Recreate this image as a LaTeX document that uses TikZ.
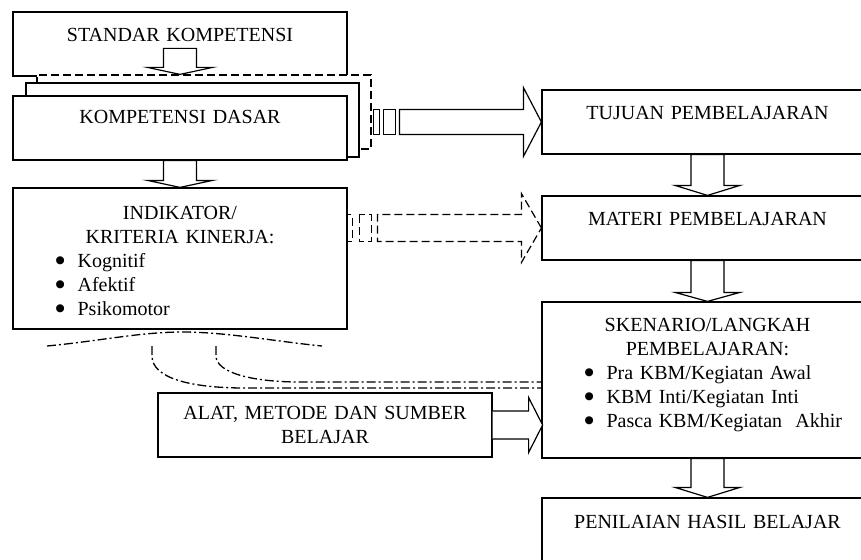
\documentclass[tikz,border=0pt]{standalone}
\usepackage{fontspec}
\setmainfont{Liberation Serif}
\newfontfamily\symfont{DejaVu Sans}
\usetikzlibrary{calc}

\newcommand{\bodyfont}{\fontsize{20}{24}\selectfont}
\newcommand{\bul}{\makebox[24pt][l]{\hspace{2pt}\raisebox{3.5pt}{\symfont\fontsize{10.5}{12}\selectfont ●}}}
% block arrow pointing down: [head length]{shaft top}{tip}
\newcommand{\blockdown}[3][8]{%
  \draw[blockarrow] let \p1=#2, \p2=#3 in
    (\x2-16.5pt,\y1) -- (\x2-16.5pt,\y2+#1pt) -- (\x2-32.5pt,\y2+#1pt) -- (\p2)
    -- (\x2+32.5pt,\y2+#1pt) -- (\x2+16.5pt,\y2+#1pt) -- (\x2+16.5pt,\y1) -- cycle;}

\begin{document}
\begin{tikzpicture}[x=1pt,y=-1pt,
  box/.style={draw,fill=white,line width=1.2pt,inner sep=0},
  boxtext/.style={anchor=base,inner sep=0,text width=330pt,align=center,font=\bodyfont},
  listtext/.style={anchor=base west,inner sep=0,text width=280pt,align=left,font=\bodyfont},
  blockarrow/.style={draw,fill=white,line width=1.2pt,line join=miter},
  dashline/.style={line width=1.2pt,dash pattern=on 8pt off 4pt},
  dashdotline/.style={line width=1.3pt,dash pattern=on 9pt off 3pt on 2pt off 3pt}]
	\useasboundingbox (0,0) rectangle (861,559);
	\clip (0,0) rectangle (861,559);
	% left column
	\node[box,minimum width=334,minimum height=64] (sk) at (180,44) {};
	\node[box,dashline,minimum width=334,minimum height=74] (kdback) at (204,112) {};
	\node[box,minimum width=333,minimum height=74] (kdmid) at (192.5,120) {};
	\node[box,minimum width=334,minimum height=64] (kd) at (180,128) {};
	\node[box,minimum width=334,minimum height=141] (ind) at (180,258.5) {};
	\node[box,minimum width=334,minimum height=64] (al) at (325,425) {};
	% right column, cut by the right edge
	\node[box,minimum width=331,minimum height=64] (tj) at (707.5,122) {};
	\node[box,minimum width=331,minimum height=64] (mt) at (707.5,228) {};
	\node[box,minimum width=331,minimum height=156] (sc) at (707.5,380) {};
	\node[box,minimum width=331,minimum height=64] (pn) at (707.5,530) {};
	% texts
	\node[boxtext] (skt) at ([yshift=-30.6pt]sk.north) {STANDAR KOMPETENSI};
	\node[boxtext] (kdt) at ([yshift=-28.6pt]kd.north) {KOMPETENSI DASAR};
	\node[boxtext] (indt) at ([yshift=-31.6pt]ind.north) {INDIKATOR/\\KRITERIA KINERJA:};
	\node[listtext] (indl) at ([xshift=41pt,yshift=-79.6pt]ind.north west)
		{\bul Kognitif\\\bul Afektif\\\bul Psikomotor};
	\node[boxtext] (alt) at ([yshift=-26.6pt]al.north) {ALAT, METODE DAN SUMBER\\BELAJAR};
	\node[boxtext] (tjt) at ([yshift=-29.6pt]tj.north) {TUJUAN PEMBELAJARAN};
	\node[boxtext] (mtt) at ([yshift=-29.6pt]mt.north) {MATERI PEMBELAJARAN};
	\node[boxtext] (sct) at ([yshift=-29.6pt]sc.north) {SKENARIO/LANGKAH\\PEMBELAJARAN:};
	\node[listtext] (scl) at ([xshift=41pt,yshift=-77.6pt]sc.north west)
		{\bul Pra KBM/Kegiatan Awal\\\bul KBM Inti/Kegiatan Inti\\\bul Pasca KBM/Kegiatan\ \ Akhir};
	\node[boxtext] (pnt) at ([yshift=-30.6pt]pn.north) {PENILAIAN HASIL BELAJAR};
	% down arrows
	\blockdown[7]{([yshift=-37pt]sk.north)}{(sk.south |- kdback.north)}
	\blockdown[7]{(kd.south)}{(ind.north)}
	\blockdown[10]{(tj.south)}{(mt.north)}
	\blockdown[9]{(mt.south)}{(sc.north)}
	\blockdown[10]{(sc.south)}{(pn.north)}
	% striped arrow to tujuan
	\begin{scope}[shift={(tj.west)}]
		\draw[blockarrow] (0,0) -- (-18,-34.5) -- (-18,-12.5) -- (-142,-12.5) -- (-142,12.5) -- (-18,12.5) -- (-18,34.5) -- cycle;
		\draw[blockarrow] (-158,-12.5) rectangle (-146,12.5);
		\draw[blockarrow] (-168,-12.5) rectangle (-162,12.5);
	\end{scope}
	% dashed striped arrow to materi
	\begin{scope}[shift={(mt.west)}]
		\draw[dashline] (0,0) -- (-20,-34.5) -- (-20,-13.5) -- (-164,-13.5) -- (-164,13.5) -- (-20,13.5) -- (-20,34.5) -- cycle;
		\draw[dashline] (-182,-13.5) rectangle (-170,13.5);
		\draw[dashline] (-194,-13.5) rectangle (-189,13.5);
	\end{scope}
	% arrow alat -> skenario
	\begin{scope}[shift={(al.east)}]
		\draw[blockarrow] (0,-14) -- (36,-14) -- (36,-27.5) -- (50,0) -- (36,27.5) -- (36,14) -- (0,14);
	\end{scope}
	% dash dot lines
	\draw[dashdotline] (47,346) .. controls (100,341) and (140,332) .. (183,332) .. controls (226,332) and (280,342) .. (322,346);
	\draw[dashdotline] (152,346) -- (152,356) .. controls (152,378) and (190,388) .. (245,388) -- (sc.west |- 0,388);
	\draw[dashdotline] (216,346) -- (216,356) .. controls (216,372) and (250,382) .. (300,382) -- (sc.west |- 0,382);
\end{tikzpicture}
\end{document}
